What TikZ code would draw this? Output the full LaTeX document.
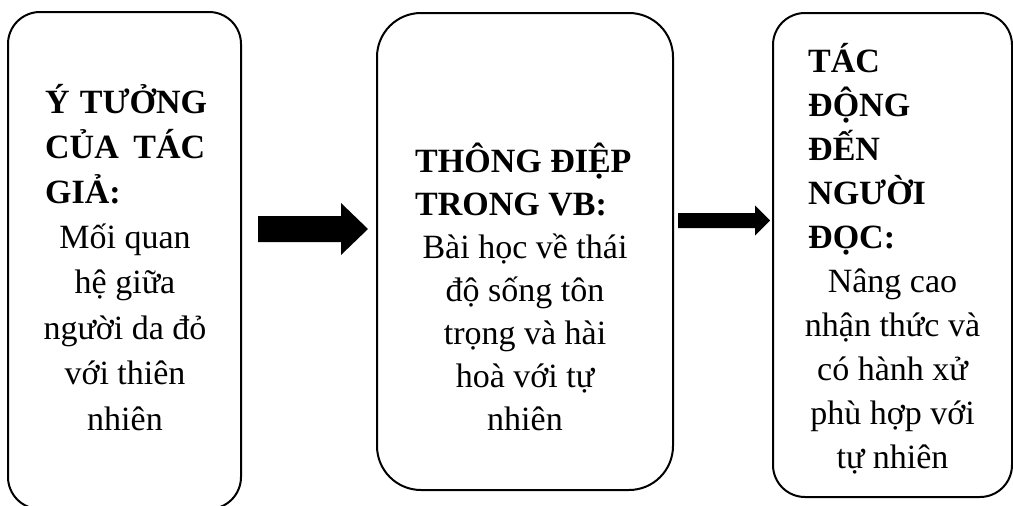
\documentclass[tikz,border=0pt]{standalone}
\usepackage{fontspec}
\setmainfont{Liberation Serif}
\usetikzlibrary{calc}
\begin{document}
\begin{tikzpicture}[x=1pt,y=-1pt,
  box/.style={draw, line width=2pt, inner sep=0pt},
  txt/.style={inner sep=0pt, font=\fontsize{34pt}{44pt}\selectfont},
  hd/.style={inner sep=0pt, font=\fontsize{34pt}{44pt}\selectfont\bfseries, anchor=base west},
  bd/.style={txt, anchor=base}]
\useasboundingbox (0,0) rectangle (1013,506);
% boxes
\node[box, rounded corners=32pt, minimum width=233pt, minimum height=497pt] (b1) at (124.5,260.5) {};
\node[box, rounded corners=44pt, minimum width=296pt, minimum height=477pt] (b2) at (525,251.5) {};
\node[box, rounded corners=32pt, minimum width=239pt, minimum height=484pt] (b3) at (892.5,255) {};
% box 1 text
\node[hd] (h11) at (45,113) {\makebox[162pt][s]{Ý TƯỞNG}};
\node[hd] (h12) at (45,158) {\makebox[160pt][s]{CỦA TÁC}};
\node[hd] (h13) at (45,203) {GIẢ:};
\node[bd] (t11) at (125,248) {Mối quan};
\node[bd] (t12) at (125,293) {hệ giữa};
\node[bd] (t13) at (125,339) {người da đỏ};
\node[bd] (t14) at (125,384) {với thiên};
\node[bd] (t15) at (125,430) {nhiên};
% box 2 text
\node[hd] (h21) at (415,172) {THÔNG ĐIỆP};
\node[hd] (h22) at (415,215) {TRONG VB:};
\node[bd] (t21) at (525,258) {Bài học về thái};
\node[bd] (t22) at (525,301) {độ sống tôn};
\node[bd] (t23) at (525,344) {trọng và hài};
\node[bd] (t24) at (525,387) {hoà với tự};
\node[bd] (t25) at (525,430) {nhiên};
% box 3 text
\node[hd] (h31) at (808,72) {TÁC};
\node[hd] (h32) at (808,116) {ĐỘNG};
\node[hd] (h33) at (808,160) {ĐẾN};
\node[hd] (h34) at (808,204) {NGƯỜI};
\node[hd] (h35) at (808,248) {ĐỌC:};
\node[bd] (t31) at (892.5,292) {Nâng cao};
\node[bd] (t32) at (892.5,336) {nhận thức và};
\node[bd] (t33) at (892.5,380) {có hành xử};
\node[bd] (t34) at (892.5,424) {phù hợp với};
\node[bd] (t35) at (892.5,468) {tự nhiên};
% arrows
\path (b1.east) ++(16,-31.5) coordinate (a1s);
\path (b2.west) ++(-8,-22.5) coordinate (a1e);
\path (b2.east) ++(4,-31) coordinate (a2s);
\path (b3.west) ++(-2,-34.5) coordinate (a2e);
\fill[black] ([yshift=13pt]a1s) -- ([xshift=-27pt,yshift=13pt]a1e) -- ([xshift=-27pt,yshift=26pt]a1e) -- (a1e)
  -- ([xshift=-27pt,yshift=-26pt]a1e) -- ([xshift=-27pt,yshift=-13pt]a1e) -- ([yshift=-13pt]a1s) -- cycle;
\fill[black] ([yshift=7.5pt]a2s) -- ([xshift=-15pt,yshift=7.5pt]a2e) -- ([xshift=-15pt,yshift=15pt]a2e) -- (a2e)
  -- ([xshift=-15pt,yshift=-15pt]a2e) -- ([xshift=-15pt,yshift=-7.5pt]a2e) -- ([yshift=-7.5pt]a2s) -- cycle;
\end{tikzpicture}
\end{document}
